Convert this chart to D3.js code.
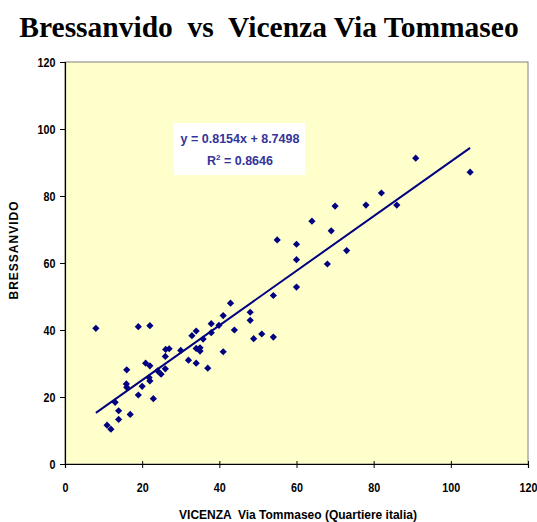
<!DOCTYPE html>
<html>
<head>
<meta charset="utf-8">
<script src="https://cdn.jsdelivr.net/npm/d3@7"></script>
<style>
  body { margin: 0; background: #fff; }
  text { font-family: Arial, "Liberation Sans", sans-serif; white-space: pre; }
</style>
</head>
<body>
<div id="chart"></div>
<script>
// values
const vicenza = [8, 10.9, 11.9, 13, 13.9, 13.9, 16.9, 16, 15.9, 16, 19, 22, 19, 20, 22.9, 20.9, 22, 21.8, 22, 24,
  24.9, 26, 26, 26.1, 27, 30, 32, 34, 32.9, 34, 34, 35, 35, 35.8, 37, 37.9, 37.9, 39.9, 41, 41,
  42.9, 43.9, 48, 48, 48.9, 51, 54, 54, 55, 60, 60, 60, 64, 68, 69, 70, 73, 78, 82, 86, 90.9, 105];
const bressanvido = [40.5, 11.6, 10.4, 18.4, 15.9, 13.3, 14.8, 28.1, 23.9, 22.9, 41, 41.3, 20.6, 23.2, 19.5, 30.1, 29.3, 25.8, 24.8, 27.8,
  26.8, 28.4, 32.1, 34.2, 34.4, 33.9, 31, 30.1, 38.3, 39.7, 34.5, 34.7, 33.7, 37.3, 28.6, 39.2, 41.9, 41.4, 44.3, 33.5,
  48, 40, 45.3, 42.9, 37.4, 38.8, 37.9, 50.3, 66.9, 52.8, 65.6, 61, 72.5, 59.7, 69.6, 77, 63.7, 77.3, 80.9, 77.3, 91.3, 87.1];
const xTicks = [0, 20, 40, 60, 80, 100, 120];
const yTicks = [0, 20, 40, 60, 80, 100, 120];
const slope = 0.8154;
const intercept = 8.7498;
const r2 = 0.8646;

const data = vicenza.map((v, i) => ({ x: v, y: bressanvido[i] }));

const width = 537, height = 522;
const plotLeft = 65, plotRight = 528, plotTop = 62, plotBottom = 464;

const svg = d3.select('#chart').append('svg')
  .attr('width', width)
  .attr('height', height);

const x = d3.scaleLinear().domain([0, 120]).range([plotLeft, plotRight]);
const y = d3.scaleLinear().domain([0, 120]).range([plotBottom, plotTop]);

// plot area
svg.append('rect')
  .attr('x', plotLeft).attr('y', plotTop)
  .attr('width', plotRight - plotLeft).attr('height', plotBottom - plotTop)
  .attr('fill', '#ffffcc')
  .attr('stroke', '#808080')
  .attr('stroke-width', 1);

// title
svg.append('text')
  .attr('x', 269).attr('y', 37)
  .attr('text-anchor', 'middle')
  .style('font-family', '"Liberation Serif", "Times New Roman", serif')
  .style('font-weight', 'bold')
  .style('font-size', '29.5px')
  .text('Bressanvido  vs  Vicenza Via Tommaseo');

// axes
const xAxis = svg.append('g')
  .attr('transform', `translate(0,${plotBottom})`)
  .call(d3.axisBottom(x).tickValues(xTicks).tickSize(4).tickPadding(15));
xAxis.selectAll('.tick line').attr('y1', -3);

const yAxis = svg.append('g')
  .attr('transform', `translate(${plotLeft},0)`)
  .call(d3.axisLeft(y).tickValues(yTicks).tickSize(5).tickPadding(6));

[xAxis, yAxis].forEach(g => {
  g.select('.domain').attr('stroke', '#000').attr('stroke-width', 1.2);
  g.selectAll('.tick line').attr('stroke', '#000');
  g.selectAll('.tick text')
    .style('font-size', '12.5px')
    .style('font-weight', 'bold')
    .attr('transform', 'scale(0.86,1)')
    .attr('fill', '#000');
});

// trend line
const xs = d3.extent(vicenza);
svg.append('line')
  .attr('x1', x(xs[0])).attr('y1', y(slope * xs[0] + intercept))
  .attr('x2', x(xs[1])).attr('y2', y(slope * xs[1] + intercept))
  .attr('stroke', '#000080')
  .attr('stroke-width', 2);

// points
svg.selectAll('path.pt')
  .data(data)
  .enter().append('path')
  .attr('class', 'pt')
  .attr('transform', d => `translate(${x(d.x)},${y(d.y)})`)
  .attr('d', 'M0,-3.6L3.6,0L0,3.6L-3.6,0Z')
  .attr('fill', '#000080');

// equation box
svg.append('rect')
  .attr('x', 174).attr('y', 123)
  .attr('width', 131).attr('height', 52)
  .attr('fill', '#fff');

svg.append('text')
  .attr('x', 240).attr('y', 143)
  .attr('text-anchor', 'middle')
  .style('font-size', '12.5px')
  .style('font-weight', 'bold')
  .attr('fill', '#333399')
  .text(`y = ${slope}x + ${intercept}`);

const r2Text = svg.append('text')
  .attr('x', 240).attr('y', 165)
  .attr('text-anchor', 'middle')
  .style('font-size', '12.5px')
  .style('font-weight', 'bold')
  .attr('fill', '#333399');
r2Text.append('tspan').text('R');
r2Text.append('tspan').attr('dy', -5).style('font-size', '8px').text('2');
r2Text.append('tspan').attr('dy', 5).text(` = ${r2}`);

// axis titles
svg.append('text')
  .attr('x', 298).attr('y', 519)
  .attr('text-anchor', 'middle')
  .style('font-size', '12px')
  .style('font-weight', 'bold')
  .text('VICENZA  Via Tommaseo (Quartiere italia)');

svg.append('text')
  .attr('transform', 'translate(18,250) rotate(-90)')
  .attr('text-anchor', 'middle')
  .style('font-size', '12px')
  .style('font-weight', 'bold')
  .style('letter-spacing', '1px')
  .text('BRESSANVIDO');
</script>
</body>
</html>
